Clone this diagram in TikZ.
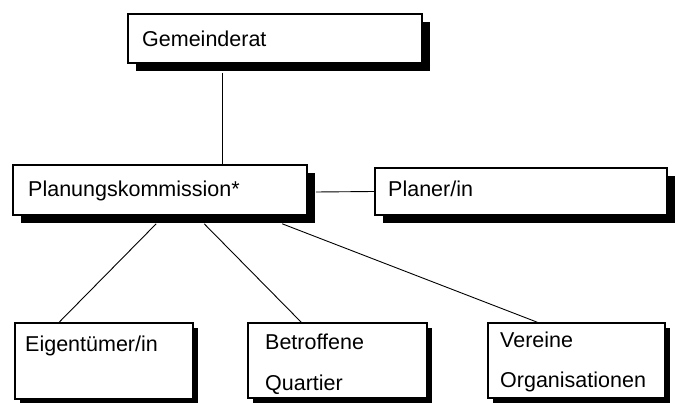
\documentclass[tikz,border=0pt]{standalone}
\usepackage{fontspec}
\setmainfont{Liberation Sans}
\usetikzlibrary{shadows}
\tikzset{
  boxbig/.style={draw=black, line width=1.6pt, fill=white, inner sep=0pt,
    drop shadow={shadow xshift=8pt, shadow yshift=-8pt, fill=black, opacity=1}},
  boxsmall/.style={draw=black, line width=1.6pt, fill=white, inner sep=0pt,
    drop shadow={shadow xshift=5pt, shadow yshift=-5pt, fill=black, opacity=1}},
  txt/.style={anchor=base west, inner sep=0pt, font=\fontsize{21.5}{25}\selectfont},
  conn/.style={draw=black, line width=0.9pt}
}
\begin{document}
\begin{tikzpicture}[x=1pt, y=-1pt]
\useasboundingbox (0,0) rectangle (678,403);
% boxes
\node[boxbig, minimum width=294pt, minimum height=49pt] (gr) at (275,38.5) {};
\node[boxbig, minimum width=294pt, minimum height=50pt] (pk) at (160,190) {};
\node[boxbig, minimum width=292pt, minimum height=47pt] (pl) at (521,191.5) {};
\node[boxsmall, minimum width=178pt, minimum height=76pt] (ei) at (104,361) {};
\node[boxsmall, minimum width=179pt, minimum height=75pt] (be) at (337.5,360.5) {};
\node[boxsmall, minimum width=177pt, minimum height=75pt] (ve) at (576.5,360.5) {};
% connectors
\draw[conn] ([xshift=95pt,yshift=-9pt]gr.south west) -- ([xshift=210pt]pk.north west);
\draw[conn] ([xshift=8pt,yshift=-2pt]pk.east) -- (pl.west);
\draw[conn] ([xshift=144pt,yshift=-8pt]pk.south west) -- ([xshift=45pt]ei.north west);
\draw[conn] ([xshift=192pt,yshift=-8pt]pk.south west) -- ([xshift=54pt]be.north west);
\draw[conn] ([xshift=270pt,yshift=-8pt]pk.south west) -- ([xshift=50pt]ve.north west);
% texts
\node[txt] (tgr) at (142,47) {Gemeinderat};
\node[txt] (tpk) at (28,197) {Planungskommission*};
\node[txt] (tpl) at (388,197) {Planer/in};
\node[txt] (tei) at (25,352) {Eigentümer/in};
\node[txt] (tbe1) at (265,350) {Betroffene};
\node[txt] (tbe2) at (265,391) {Quartier};
\node[txt] (tve1) at (500,348) {Vereine};
\node[txt] (tve2) at (500,388) {Organisationen};
\end{tikzpicture}
\end{document}
